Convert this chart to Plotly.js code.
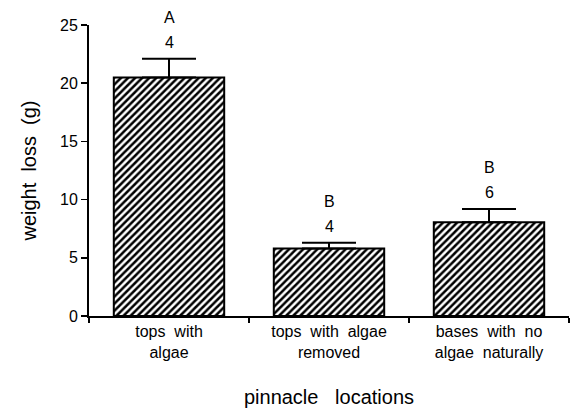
<!DOCTYPE html>
<html>
<head>
<meta charset="utf-8">
<script src="https://cdn.plot.ly/plotly-3.0.1.min.js"></script>
<style>html,body{margin:0;padding:0;background:#fff;}#chart{width:570px;height:409px;}</style>
</head>
<body>
<div id="chart"></div>
<script>
const categories = ["tops  with<br>algae", "tops  with  algae<br>removed", "bases  with  no<br>algae  naturally"];
const weightLoss = [20.5, 5.8, 8.05];
const errorUp = [1.6, 0.5, 1.15];
const groupLetters = ["A", "B", "B"];
const sampleSizes = ["4", "4", "6"];
const yTicks = [0, 5, 10, 15, 20, 25];

const FONT = "Liberation Sans, Arial, Helvetica, sans-serif";

const trace = {
  type: "bar",
  x: categories,
  y: weightLoss,
  width: 0.69,
  marker: {
    color: "white",
    line: {color: "black", width: 2},
    pattern: {shape: "/", fgcolor: "black", bgcolor: "white", size: 5, solidity: 0.5}
  },
  error_y: {
    type: "data",
    symmetric: false,
    array: errorUp,
    arrayminus: weightLoss.map(() => 0),
    color: "black",
    thickness: 2,
    width: 27
  },
  hoverinfo: "none"
};

const annotations = [];
categories.forEach((c, i) => {
  const top = weightLoss[i] + errorUp[i];
  annotations.push({x: c, y: top, xref: "x", yref: "y", text: sampleSizes[i], showarrow: false,
    yanchor: "middle", yshift: 16, font: {family: FONT, size: 16, color: "black"}});
  annotations.push({x: c, y: top, xref: "x", yref: "y", text: groupLetters[i], showarrow: false,
    yanchor: "middle", yshift: 41, font: {family: FONT, size: 16, color: "black"}});
});

const layout = {
  width: 570,
  height: 409,
  margin: {l: 89, r: 1, t: 25, b: 93},
  paper_bgcolor: "white",
  plot_bgcolor: "white",
  showlegend: false,
  font: {family: FONT, color: "black", size: 16},
  xaxis: {
    type: "category",
    range: [-0.5, 2.5],
    tickson: "boundaries",
    ticks: "outside",
    ticklen: 5,
    tickwidth: 1.5,
    tickcolor: "black",
    showline: true,
    linecolor: "black",
    linewidth: 2,
    showgrid: false,
    zeroline: false,
    tickfont: {family: FONT, size: 16, color: "black"},
    title: {text: "pinnacle   locations", font: {family: FONT, size: 20, color: "black"}, standoff: 30}
  },
  yaxis: {
    range: [0, 25],
    tickvals: yTicks,
    ticks: "outside",
    ticklen: 6,
    tickwidth: 1.5,
    tickcolor: "black",
    showline: true,
    linecolor: "black",
    linewidth: 2,
    showgrid: false,
    zeroline: false,
    tickfont: {family: FONT, size: 16, color: "black"},
    title: {text: "weight  loss  (g)", font: {family: FONT, size: 20, color: "black"}, standoff: 18}
  },
  annotations: annotations
};

Plotly.newPlot("chart", [trace], layout, {staticPlot: true, displayModeBar: false});
</script>
</body>
</html>
